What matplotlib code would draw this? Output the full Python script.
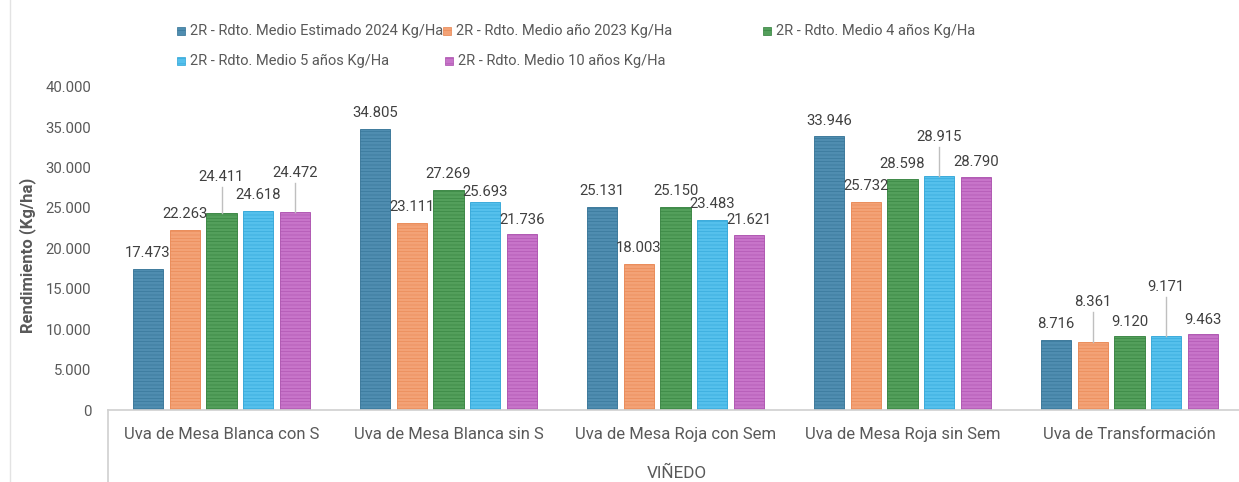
import matplotlib
matplotlib.use("Agg")
import matplotlib.pyplot as plt
from matplotlib.patches import Rectangle
from matplotlib.lines import Line2D

# ---------------- data ----------------
categories = ["Uva de Mesa Blanca con S", "Uva de Mesa Blanca sin S",
              "Uva de Mesa Roja con Sem", "Uva de Mesa Roja sin Sem",
              "Uva de Transformación"]
series_names = ["2R - Rdto. Medio Estimado 2024 Kg/Ha",
                "2R - Rdto. Medio año 2023 Kg/Ha",
                "2R - Rdto. Medio 4 años Kg/Ha",
                "2R - Rdto. Medio 5 años Kg/Ha",
                "2R - Rdto. Medio 10 años Kg/Ha"]
est_2024 = [17473, 34805, 25131, 33946, 8716]
anio_2023 = [22263, 23111, 18003, 25732, 8361]
medio_4 = [24411, 27269, 25150, 28598, 9120]
medio_5 = [24618, 25693, 23483, 28915, 9171]
medio_10 = [24472, 21736, 21621, 28790, 9463]
series = [est_2024, anio_2023, medio_4, medio_5, medio_10]
y_ticks = [0, 5000, 10000, 15000, 20000, 25000, 30000, 35000, 40000]
x_title = "VIÑEDO"
y_title = "Rendimiento (Kg/ha)"

# ---------------- style ----------------
fills = ["#4F8DB0", "#F3A276", "#539F5B", "#55C0EC", "#C774C9"]
edges = ["#2F6F93", "#E8834D", "#2F7E39", "#2BA3D6", "#A94CAB"]
text_col = "#595959"
label_col = "#404040"
line_col = "#D0D0D0"

plt.rcParams['font.family'] = ['Roboto', 'DejaVu Sans']
plt.rcParams['hatch.linewidth'] = 0.35

W, H = 1239, 482
fig = plt.figure(figsize=(W / 100, H / 100), dpi=100)

ax_left, ax_right = 108, 1239
ax_top, ax_bottom = 86.7, 410
ax = fig.add_axes([ax_left / W, (H - ax_bottom) / H,
                   (ax_right - ax_left) / W, (ax_bottom - ax_top) / H])

group_px = 227.0
xmax = -0.5 + (ax_right - ax_left) / group_px
ax.set_xlim(-0.5, xmax)
ax.set_ylim(0, 40000)

pitch = 0.162
bw = 0.134
n = len(series)
px_per_unit = (ax_bottom - ax_top) / 40000.0

# label offsets above bar top (pixels), keyed by (category, series); default 16
offsets = {(0, 2): 36, (0, 4): 39, (1, 3): 10, (1, 4): 14, (2, 4): 15,
           (3, 0): 15, (3, 2): 15, (3, 3): 39, (3, 4): 15,
           (4, 1): 40, (4, 2): 14, (4, 3): 49, (4, 4): 14}
leaders = {(0, 2), (0, 4), (3, 3), (4, 1), (4, 3)}


def fmt(v):
    return f"{v:,}".replace(",", ".")


for si, vals in enumerate(series):
    xs = [ci + (si - (n - 1) / 2) * pitch for ci in range(len(categories))]
    ax.bar(xs, vals, width=bw, color=fills[si], edgecolor=edges[si],
           linewidth=0.6, hatch="-----", zorder=2)
    for ci, (x, v) in enumerate(zip(xs, vals)):
        off = offsets.get((ci, si), 16)
        ylab = v + off / px_per_unit
        ax.text(x, ylab, fmt(v), ha="center", va="center", fontsize=10.7,
                color=label_col, zorder=4)
        if (ci, si) in leaders:
            ax.plot([x, x], [ylab - 10 / px_per_unit, v], color="#BFBFBF",
                    lw=1.0, zorder=3)

ax.set_yticks(y_ticks)
ax.set_yticklabels([fmt(t) for t in y_ticks], fontsize=10.7, color=text_col)
ax.tick_params(axis="y", length=0, pad=12)
ax.set_xticks(range(len(categories)))
ax.set_xticklabels(categories, fontsize=12, color=text_col)
ax.tick_params(axis="x", length=0, pad=12)

for s in ["top", "right", "left"]:
    ax.spines[s].set_visible(False)
ax.spines["bottom"].set_color(line_col)
ax.spines["bottom"].set_linewidth(1.2)

# category axis frame (left edge) and chart border
fig.add_artist(Line2D([ax_left / W, ax_left / W], [0, (H - ax_bottom) / H],
                      color=line_col, lw=1.2))
fig.add_artist(Line2D([10 / W, 10 / W], [0, 1], color="#E3E3E3", lw=1.0))

fig.text(677 / W, 1 - 473 / H, x_title, ha="center", va="center",
         fontsize=12.3, color=text_col)
fig.text(28 / W, 1 - 255 / H, y_title, ha="center", va="center",
         rotation=90, fontsize=12, fontweight="bold", color=text_col)

# legend (manual, Excel-like layout)
leg_pos = [(177, 31), (443, 31), (763, 31), (177, 61), (445, 61)]
for si, (mx, my) in enumerate(leg_pos):
    sz = 8
    fig.add_artist(Rectangle((mx / W, 1 - (my + sz / 2) / H), sz / W, sz / H,
                             facecolor=fills[si], edgecolor=edges[si],
                             linewidth=0.5, hatch="---",
                             transform=fig.transFigure))
    fig.text((mx + 13) / W, 1 - my / H, series_names[si], ha="left",
             va="center", fontsize=10.5, color=text_col)

fig.savefig("out.png", dpi=100)
